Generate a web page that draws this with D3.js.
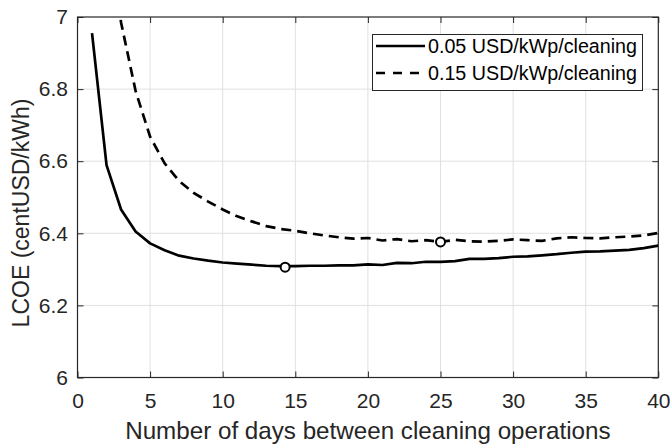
<!DOCTYPE html>
<html>
<head>
<meta charset="utf-8">
<script src="https://cdn.jsdelivr.net/npm/d3@7"></script>
<style>
  body { margin: 0; background: #fff; }
  svg { font-family: "Liberation Sans", Arial, Helvetica, sans-serif; }
</style>
</head>
<body>
<script>
// days between cleaning operations
var days = d3.range(1, 41)
// LCOE, 0.05 USD/kWp/cleaning
var lcoe05 = [6.955, 6.589, 6.466, 6.405, 6.372, 6.353, 6.338, 6.330, 6.324, 6.319,
  6.316, 6.313, 6.310, 6.309, 6.309, 6.310, 6.310, 6.311, 6.311, 6.314,
  6.312, 6.318, 6.317, 6.321, 6.321, 6.323, 6.329, 6.329, 6.331, 6.335,
  6.336, 6.339, 6.342, 6.346, 6.349, 6.350, 6.352, 6.354, 6.359, 6.366]
// LCOE, 0.15 USD/kWp/cleaning (starts at day 2, clipped at the top)
var days15 = d3.range(2, 41)
var lcoe15 = [7.30, 6.985, 6.795, 6.668, 6.594, 6.545, 6.512, 6.488, 6.466,
  6.447, 6.433, 6.420, 6.412, 6.407, 6.400, 6.394, 6.389, 6.385, 6.387,
  6.380, 6.384, 6.378, 6.381, 6.376, 6.382, 6.378, 6.377, 6.379, 6.383,
  6.381, 6.379, 6.386, 6.389, 6.387, 6.386, 6.389, 6.391, 6.394, 6.401]
// optimum markers
var optDays = [14.3, 25]
var optLcoe = [6.306, 6.376]

var xTicks = [0, 5, 10, 15, 20, 25, 30, 35, 40]
var yTicks = [6, 6.2, 6.4, 6.6, 6.8, 7]
var legendLabels = ['0.05 USD/kWp/cleaning', '0.15 USD/kWp/cleaning']

; (function () {
  var width = 670, height = 446
  var pl = 77.5, pr = 658.3, pt = 17, pb = 377.5
  var ink = '#262626'

  var x = d3.scaleLinear().domain([0, 40]).range([pl, pr])
  var y = d3.scaleLinear().domain([6, 7]).range([pb, pt])

  var svg = d3.select('body').append('svg')
    .attr('width', width)
    .attr('height', height)

  svg.append('defs').append('clipPath').attr('id', 'clip')
    .append('rect')
    .attr('x', pl).attr('y', pt)
    .attr('width', pr - pl).attr('height', pb - pt)

  // grid
  svg.append('g').selectAll('line')
    .data(xTicks.slice(1, -1))
    .enter().append('line')
    .attr('x1', x).attr('x2', x)
    .attr('y1', pt).attr('y2', pb)
    .attr('stroke', '#e0e0e0')
  svg.append('g').selectAll('line')
    .data(yTicks.slice(1, -1))
    .enter().append('line')
    .attr('x1', pl).attr('x2', pr)
    .attr('y1', y).attr('y2', y)
    .attr('stroke', '#e0e0e0')

  // axes (ticks inward on all four sides)
  function styleAxis(g) {
    g.select('.domain').remove()
    g.selectAll('line').attr('stroke', ink)
    g.selectAll('text').attr('fill', ink).style('font-size', '21px')
  }
  svg.append('g')
    .attr('transform', 'translate(0,' + pb + ')')
    .call(d3.axisBottom(x).tickValues(xTicks).tickSize(-6).tickPadding(16))
    .call(styleAxis)
  svg.append('g')
    .attr('transform', 'translate(0,' + pt + ')')
    .call(d3.axisTop(x).tickValues(xTicks).tickSize(-6).tickFormat(''))
    .call(styleAxis)
  svg.append('g')
    .attr('transform', 'translate(' + pl + ',0)')
    .call(d3.axisLeft(y).tickValues(yTicks).tickSize(-6).tickPadding(9.5)
      .tickFormat(d3.format('~g')))
    .call(styleAxis)
  svg.append('g')
    .attr('transform', 'translate(' + pr + ',0)')
    .call(d3.axisRight(y).tickValues(yTicks).tickSize(-6).tickFormat(''))
    .call(styleAxis)

  svg.append('rect')
    .attr('x', pl).attr('y', pt)
    .attr('width', pr - pl).attr('height', pb - pt)
    .attr('fill', 'none')
    .attr('stroke', ink)
    .attr('stroke-width', 1.2)

  // lines
  var line = d3.line()
    .x(function (d) { return x(d[0]) })
    .y(function (d) { return y(d[1]) })

  var plot = svg.append('g').attr('clip-path', 'url(#clip)')
  plot.append('path')
    .datum(d3.zip(days, lcoe05))
    .attr('d', line)
    .attr('fill', 'none')
    .attr('stroke', '#000')
    .attr('stroke-width', 2.7)
    .attr('stroke-linejoin', 'round')
  plot.append('path')
    .datum(d3.zip(days15, lcoe15))
    .attr('d', line)
    .attr('fill', 'none')
    .attr('stroke', '#000')
    .attr('stroke-width', 2.7)
    .attr('stroke-dasharray', '10,6')

  svg.append('g').selectAll('circle')
    .data(d3.zip(optDays, optLcoe))
    .enter().append('circle')
    .attr('cx', function (d) { return x(d[0]) })
    .attr('cy', function (d) { return y(d[1]) })
    .attr('r', 4.5)
    .attr('fill', '#fff')
    .attr('stroke', '#000')
    .attr('stroke-width', 2)

  // axis titles
  svg.append('text')
    .attr('x', (pl + pr) / 2)
    .attr('y', 439.3)
    .attr('text-anchor', 'middle')
    .attr('fill', ink)
    .style('font-size', '24.2px')
    .text('Number of days between cleaning operations')
  svg.append('text')
    .attr('transform', 'translate(28.5,213) rotate(-90)')
    .attr('text-anchor', 'middle')
    .attr('fill', ink)
    .style('font-size', '23px')
    .text('LCOE (centUSD/kWh)')

  // legend
  var legend = svg.append('g')
  legend.append('rect')
    .attr('x', 372.5).attr('y', 34.5)
    .attr('width', 270).attr('height', 56)
    .attr('fill', '#fff')
    .attr('stroke', ink)
    .attr('stroke-width', 1)
  var item = legend.selectAll('g.item')
    .data(legendLabels)
    .enter().append('g')
    .attr('class', 'item')
    .attr('transform', function (d, i) { return 'translate(0,' + (46 + i * 27) + ')' })
  item.append('line')
    .attr('x1', 376).attr('x2', 425)
    .attr('stroke', '#000')
    .attr('stroke-width', 2.7)
    .attr('stroke-dasharray', function (d, i) { return i ? '9,8' : null })
  item.append('text')
    .attr('x', 428)
    .attr('dy', '0.36em')
    .attr('fill', '#000')
    .style('font-size', '19.7px')
    .text(function (d) { return d })
})()
</script>
</body>
</html>
